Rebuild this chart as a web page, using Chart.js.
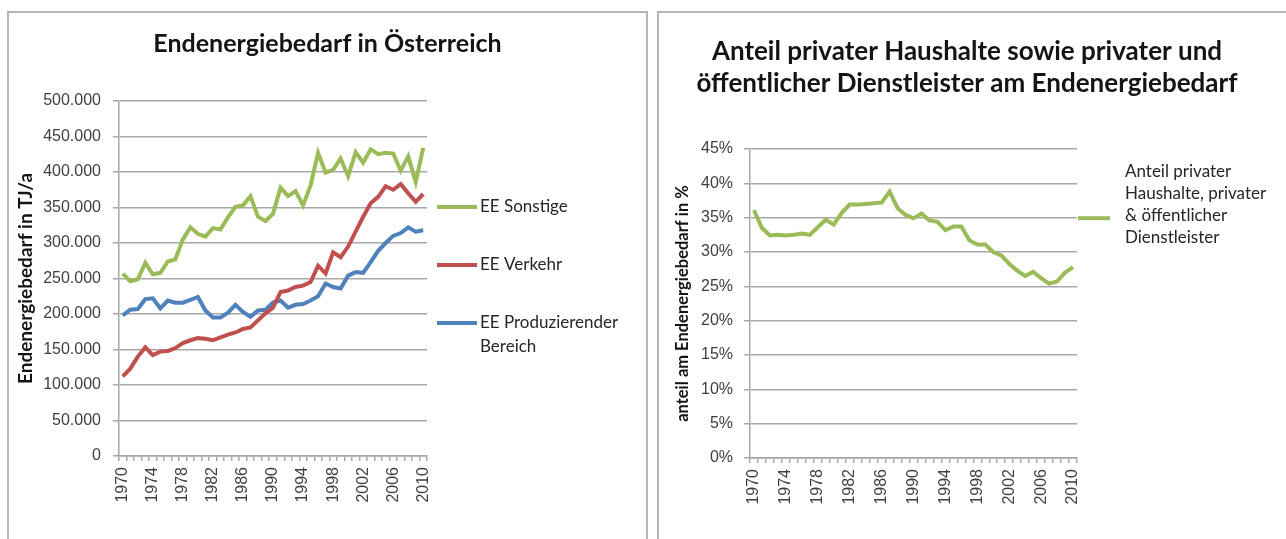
<!DOCTYPE html>
<html>
<head>
<meta charset="utf-8">
<script src="https://cdn.jsdelivr.net/npm/chart.js@4.4.1/dist/chart.umd.min.js"></script>
<style>
body{margin:0;background:#fff;width:1286px;height:539px;overflow:hidden;position:relative;}
.panel{position:absolute;top:11px;height:600px;border:2px solid #b5b5b5;box-sizing:border-box;}
#leftPanel{left:7px;width:641px;}
#rightPanel{left:657px;width:700px;}
canvas{position:absolute;}
#energyChart{left:9px;top:12px;}
#shareChart{left:659px;top:12px;}
</style>
</head>
<body>
<div class="panel" id="leftPanel"></div>
<div class="panel" id="rightPanel"></div>
<canvas id="energyChart" width="637" height="527"></canvas>
<canvas id="shareChart" width="616" height="527"></canvas>
<script>
const years = [
  "1970","1971","1972","1973","1974","1975","1976","1977","1978","1979",
  "1980","1981","1982","1983","1984","1985","1986","1987","1988","1989",
  "1990","1991","1992","1993","1994","1995","1996","1997","1998","1999",
  "2000","2001","2002","2003","2004","2005","2006","2007","2008","2009",
  "2010"];

// Endenergiebedarf in TJ/a
const eeSonstige = [
  257000, 246000, 249000, 272000, 256000, 258000, 274000, 277000, 305000, 322000,
  313000, 309000, 321000, 319000, 336000, 351000, 353000, 366000, 337000, 331000,
  341000, 378000, 366000, 373000, 353000, 381000, 427000, 399000, 403000, 419000,
  394000, 428000, 413000, 432000, 425000, 427000, 426000, 402000, 422000, 386000,
  434000];

const eeVerkehr = [
  112000, 123000, 140000, 153000, 142000, 147000, 148000, 152000, 159000, 163000,
  166000, 165000, 163000, 167000, 171000, 174000, 179000, 181000, 191000, 201000,
  209000, 231000, 233000, 238000, 240000, 245000, 268000, 257000, 287000, 280000,
  295000, 316000, 337000, 356000, 365000, 380000, 375000, 383000, 370000, 358000,
  369000];

const eeProduzierend = [
  198000, 206000, 207000, 221000, 222000, 208000, 219000, 216000, 216000, 220000,
  224000, 205000, 195000, 195000, 202000, 213000, 203000, 196000, 205000, 206000,
  216000, 219000, 209000, 213000, 214000, 219000, 225000, 243000, 238000, 236000,
  254000, 259000, 258000, 273000, 289000, 300000, 310000, 314000, 322000, 316000,
  318000];

// Anteil in %
const anteilHaushalte = [
  36.1, 33.5, 32.4, 32.5, 32.4, 32.5, 32.7, 32.5, 33.6, 34.7,
  34.0, 35.7, 36.9, 36.9, 37.0, 37.1, 37.2, 38.8, 36.4, 35.4,
  34.9, 35.6, 34.6, 34.4, 33.2, 33.7, 33.7, 31.7, 31.1, 31.1,
  30.0, 29.5, 28.3, 27.3, 26.5, 27.1, 26.2, 25.4, 25.7, 27.0,
  27.8];

const green = "#9bbb59";
const red = "#c0504d";
const blue = "#4f81bd";
const gridGray = "#a8a8a8";
const textGray = "#404040";

Chart.defaults.font.family = "'Liberation Sans', Arial, sans-serif";
Chart.defaults.font.size = 16;
Chart.defaults.color = textGray;

// title across the whole canvas
const panelTitle = {
  id: "panelTitle",
  afterDraw(chart, args, opts){
    const ctx = chart.ctx;
    ctx.save();
    ctx.font = "bold " + opts.size + "px Lato";
    ctx.fillStyle = "#141414";
    ctx.textAlign = "center";
    ctx.textBaseline = "middle";
    opts.lines.forEach(function(line, i){
      ctx.fillText(line, chart.width / 2, opts.top + i * opts.lineHeight);
    });
    ctx.restore();
  }
};

// legend on the right, line sample + wrapped text
const sideLegend = {
  id: "sideLegend",
  afterDraw(chart, args, opts){
    const ctx = chart.ctx;
    const x0 = chart.chartArea.right + opts.gap;
    ctx.save();
    ctx.font = opts.size + "px Lato";
    ctx.textBaseline = "middle";
    chart.data.datasets.forEach(function(ds, i){
      const lines = ds.label.split("\n");
      const top = opts.rows[i];
      const sy = top + opts.sampleLine * opts.lineHeight;
      ctx.strokeStyle = ds.borderColor;
      ctx.lineWidth = ds.borderWidth;
      ctx.beginPath();
      ctx.moveTo(x0, sy);
      ctx.lineTo(x0 + opts.sample, sy);
      ctx.stroke();
      ctx.fillStyle = "#262626";
      lines.forEach(function(t, j){
        ctx.fillText(t, x0 + opts.sample + opts.textGap, top + j * opts.lineHeight);
      });
    });
    ctx.restore();
  }
};

function yearTick(value, index){
  return index % 4 === 0 ? years[index] : "";
}

function thousands(v){
  return String(v).replace(/\B(?=(\d{3})+(?!\d))/g, ".");
}

function xAxis(height){
  return {
    offset: true,
    grid: {display: true, drawOnChartArea: false, drawTicks: true,
      tickLength: 5, offset: true, color: gridGray, lineWidth: 1.5},
    border: {display: true, color: gridGray, width: 1.5},
    ticks: {autoSkip: false, minRotation: 90, maxRotation: 90,
      padding: 6, callback: yearTick},
    afterFit(scale){ scale.height = height; }
  };
}

function lineSet(label, data, color){
  return {
    label: label,
    data: data,
    borderColor: color,
    backgroundColor: color,
    borderWidth: 4,
    pointRadius: 0,
    tension: 0
  };
}

new Chart(document.getElementById("energyChart"), {
  type: "line",
  data: {
    labels: years,
    datasets: [
      lineSet("EE Sonstige", eeSonstige, green),
      lineSet("EE Verkehr", eeVerkehr, red),
      lineSet("EE Produzierender\nBereich", eeProduzierend, blue)
    ]
  },
  options: {
    responsive: false,
    animation: false,
    layout: {padding: {top: 89, right: 219, left: 0, bottom: 0}},
    plugins: {
      legend: {display: false},
      tooltip: {enabled: false},
      panelTitle: {lines: ["Endenergiebedarf in Österreich"], size: 25, top: 32, lineHeight: 32},
      sideLegend: {gap: 10, sample: 40, textGap: 3, size: 17,
        rows: [195, 253, 311], lineHeight: 24, sampleLine: 0}
    },
    scales: {
      x: xAxis(83),
      y: {
        min: 0,
        max: 500000,
        grid: {color: gridGray, lineWidth: 1.5, tickLength: 6},
        border: {display: true, color: gridGray, width: 1.5},
        ticks: {stepSize: 50000, padding: 12, callback: thousands},
        title: {display: true, text: "Endenergiebedarf in TJ/a", color: "#141414",
          font: {family: "Lato", weight: "bold", size: 19}, padding: {top: 5, bottom: 0}},
        afterFit(scale){ scale.width = 110; }
      }
    }
  },
  plugins: [panelTitle, sideLegend]
});

new Chart(document.getElementById("shareChart"), {
  type: "line",
  data: {
    labels: years,
    datasets: [
      lineSet("Anteil privater\nHaushalte, privater\n& öffentlicher\nDienstleister", anteilHaushalte, green)
    ]
  },
  options: {
    responsive: false,
    animation: false,
    layout: {padding: {top: 137, right: 198, left: 0, bottom: 0}},
    plugins: {
      legend: {display: false},
      tooltip: {enabled: false},
      panelTitle: {lines: ["Anteil privater Haushalte sowie privater und",
        "öffentlicher Dienstleister am Endenergiebedarf"], size: 26, top: 40, lineHeight: 32},
      sideLegend: {gap: 1, sample: 32, textGap: 15, size: 17,
        rows: [160], lineHeight: 22, sampleLine: 2.1}
    },
    scales: {
      x: xAxis(81),
      y: {
        min: 0,
        max: 45,
        grid: {color: gridGray, lineWidth: 1.5, tickLength: 6},
        border: {display: true, color: gridGray, width: 1.5},
        ticks: {stepSize: 5, padding: 11, callback: function(v){ return v + "%"; }},
        title: {display: true, text: "anteil am Endenergiebedarf in %", color: "#141414",
          font: {family: "Lato", weight: "bold", size: 16.5}, padding: {top: 14, bottom: 0}},
        afterFit(scale){ scale.width = 91; }
      }
    }
  },
  plugins: [panelTitle, sideLegend]
});
</script>
</body>
</html>
